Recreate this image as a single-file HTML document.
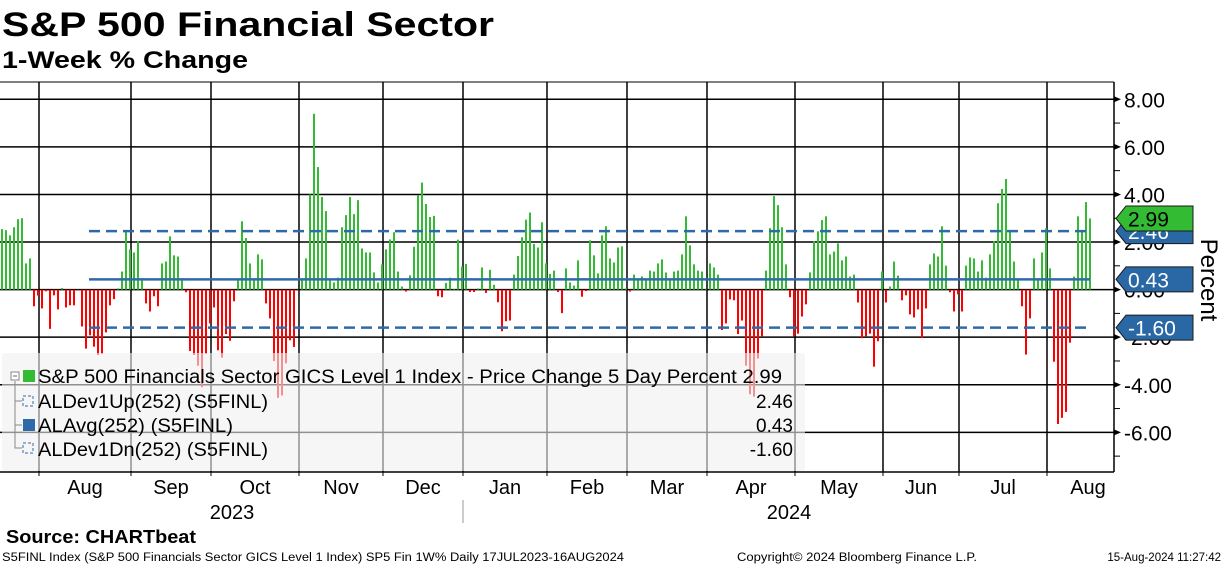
<!DOCTYPE html>
<html><head><meta charset="utf-8"><style>
body{margin:0;background:#fff;width:1224px;height:566px;overflow:hidden}
svg{display:block}
text{font-family:"Liberation Sans","DejaVu Sans",sans-serif}
</style></head><body>
<svg id="chart" width="1224" height="566" viewBox="0 0 1224 566">
<text x="2" y="36" font-size="34" font-weight="bold" textLength="492" lengthAdjust="spacingAndGlyphs">S&amp;P 500 Financial Sector</text>
<text x="2" y="68" font-size="24" font-weight="bold" textLength="246" lengthAdjust="spacingAndGlyphs">1-Week % Change</text>
<g id="grid"></g>
<g id="bars"></g>
<g id="stats"></g>
<g>
<rect x="2" y="353" width="803" height="118" rx="3" fill="rgb(240,240,240)" fill-opacity="0.6"/>
<path d="M15 381 V448 H22 M15 401 H22 M15 425 H22" stroke="#888" fill="none"/>
<rect x="11" y="372" width="8" height="8" fill="#fff" stroke="#888"/>
<line x1="13" y1="376" x2="17" y2="376" stroke="#666"/>
<g><rect x="23" y="370" width="12" height="12" fill="#33bb33"/><text x="38" y="383" font-size="19" textLength="744" lengthAdjust="spacingAndGlyphs">S&amp;P 500 Financials Sector GICS Level 1 Index - Price Change 5 Day Percent 2.99</text></g>
<g><rect x="23" y="396" width="10" height="10" fill="none" stroke="#2e6aa8" stroke-dasharray="3,2"/><text x="38" y="408" font-size="19" textLength="230" lengthAdjust="spacingAndGlyphs">ALDev1Up(252) (S5FINL)</text><text x="793" y="408" font-size="19" text-anchor="end">2.46</text></g>
<g><rect x="23" y="419" width="12" height="12" fill="#2e6aa8"/><text x="38" y="432" font-size="19" textLength="195" lengthAdjust="spacingAndGlyphs">ALAvg(252) (S5FINL)</text><text x="793" y="432" font-size="19" text-anchor="end">0.43</text></g>
<g><rect x="23" y="443" width="10" height="10" fill="none" stroke="#2e6aa8" stroke-dasharray="3,2"/><text x="38" y="456" font-size="19" textLength="230" lengthAdjust="spacingAndGlyphs">ALDev1Dn(252) (S5FINL)</text><text x="793" y="456" font-size="19" text-anchor="end">-1.60</text></g>
</g>
<g id="yaxis"></g>
<g id="xaxis"></g>
<g id="tags"></g>
<text transform="translate(1201,280) rotate(90)" font-size="24" text-anchor="middle">Percent</text>
<text x="6" y="543" font-size="18" font-weight="bold" textLength="190" lengthAdjust="spacingAndGlyphs">Source:  CHARTbeat</text>
<text x="2" y="561" font-size="11.5" textLength="622" lengthAdjust="spacingAndGlyphs">S5FINL Index (S&amp;P 500 Financials Sector GICS Level 1 Index) SP5 Fin 1W%  Daily 17JUL2023-16AUG2024</text>
<text x="737" y="561" font-size="11.5" textLength="240" lengthAdjust="spacingAndGlyphs">Copyright© 2024 Bloomberg Finance L.P.</text>
<text x="1221" y="561" font-size="11.5" text-anchor="end">15-Aug-2024 11:27:42</text>
</svg>
<script>
const values = [2.54,2.5,2.28,2.62,2.96,3.0,1.1,1.31,-0.7,-0.25,-0.79,-0.07,-1.65,-0.24,-0.83,0.07,-0.75,-0.66,-0.66,-0.02,-1.55,-2.48,-1.92,-2.4,-2.75,-2.7,-1.8,-0.66,-0.4,0.05,0.76,2.5,1.69,1.56,2.03,0.38,-0.58,-0.92,-0.28,-0.7,1.1,1.18,2.24,1.44,1.39,0.38,-0.11,-2.58,-2.75,-3.2,
-4.1,-2.7,-1.42,-0.75,-2.55,-2.86,-1.87,-2.15,-0.49,0.38,2.87,2.17,1.1,0.38,1.48,1.27,-0.58,-1.21,-3.0,-4.55,-4.45,-3.1,-2.13,-2.41,-0.02,0.38,1.31,4.0,7.39,5.15,3.89,3.3,0.38,0.3,0.5,2.62,3.13,3.89,3.17,3.76,1.73,1.56,1.56,0.72,0.3,1.06,1.69,2.11,2.41,
0.76,0.13,-0.08,0.6,1.8,3.96,4.5,3.6,3.05,3.1,-0.28,-0.32,0.28,0.5,0.02,2.1,0.97,1.08,-0.1,-0.1,0.05,0.93,-0.14,0.83,0.2,-0.53,-1.75,-1.33,-1.3,0.63,1.41,2.2,2.94,3.24,1.92,1.77,2.83,1.1,0.66,0.8,-0.1,-0.99,0.89,0.3,0.17,1.23,-0.3,-0.06,
2.07,1.44,0.68,2.28,2.66,1.31,1.14,1.77,1.82,0.05,-0.08,0.63,0.38,0.55,0.38,0.8,0.76,1.1,1.27,0.72,0.38,0.76,0.8,1.48,3.08,1.86,1.06,0.8,0.76,0.02,1.1,0.93,0.63,-1.7,-1.42,-0.41,-0.45,-1.87,-1.3,-3.2,-4.4,-4.5,-2.9,-1.96,0.8,2.58,3.93,3.55,2.62,
1.06,-0.32,-1.96,-1.85,-1.13,-0.62,0.72,2.03,2.45,2.92,3.08,1.48,1.6,1.94,1.23,1.39,0.55,0.63,-0.54,-2.04,-1.96,-1.85,-3.24,-2.17,0.76,-0.54,0.13,1.18,0.59,-0.45,-0.24,-1.04,-1.17,-0.83,-2.03,-0.79,1.06,1.52,1.39,2.66,1.01,-0.11,-0.92,-0.2,-0.92,1.01,1.35,1.31,0.76,
1.23,0.5,1.48,2.03,3.63,4.23,4.65,2.45,1.18,0.38,-0.7,-2.73,-1.21,1.31,0.38,1.56,2.58,0.89,-3.03,-5.65,-5.39,-5.14,-2.23,0.55,3.08,2.45,3.68,2.99];
const yTicks = [8,6,4,2,0,-2,-4,-6];
const yTickLabels = ["8.00","6.00","4.00","2.00","0.00","-2.00","-4.00","-6.00"];
const monthLabels = ["Aug","Sep","Oct","Nov","Dec","Jan","Feb","Mar","Apr","May","Jun","Jul","Aug"];
const monthStartIdx = [10,33,53,75,96,116,137,157,177,199,221,240,262];
const yearLabels = ["2023","2024"];
const statValues = [2.46,0.43,-1.60];
const lastValue = 2.99;

const NS="http://www.w3.org/2000/svg";
const PL=0, PR=1114, PT=82, PB=472;
const y = v => 289.6 - v*23.79;
const x = i => 1 + i*4;
function mk(tag, attrs, parent){const e=document.createElementNS(NS,tag);for(const k in attrs)e.setAttribute(k,attrs[k]);parent.appendChild(e);return e;}

const grid=document.getElementById('grid');
mk('line',{x1:PL,y1:PT,x2:PR,y2:PT,stroke:'#000'},grid);
yTicks.forEach(t=>{const l=mk('line',{x1:PL,y1:y(t),x2:PR,y2:y(t),stroke:'#000','stroke-width':1.5},grid);

});
const bounds=monthStartIdx.map(i=>x(i)-2);
bounds.forEach(bx=>{const l=mk('line',{x1:bx,y1:PT,x2:bx,y2:PB,stroke:'#000','stroke-width':1.5},grid);

});

const bars=document.getElementById('bars');
values.forEach((v,i)=>{const r=mk('rect',{x:x(i),y:Math.min(y(v),y(0)),width:2,height:Math.max(0.5,Math.abs(y(v)-y(0))),fill:v>=0?'#33bb33':'#ff0000'},bars);

});

const stats=document.getElementById('stats');
statValues.forEach((s,k)=>{const l=mk('line',{x1:89,x2:1090,y1:y(s),y2:y(s),stroke:'#2e6aa8','stroke-width':2.5},stats);
if(k!==1)l.setAttribute('stroke-dasharray','11,6');

});

const ya=document.getElementById('yaxis');
mk('line',{x1:PR,y1:PT,x2:PR,y2:PB,stroke:'#000','stroke-width':1.5},ya);
mk('line',{x1:0,y1:PB,x2:PR,y2:PB,stroke:'#000','stroke-width':1.5},ya);
for(let v=7;v>=-7;v-=2){mk('line',{x1:PR,x2:PR+6,y1:y(v),y2:y(v),stroke:'#000'},ya);}
yTicks.forEach((t,k)=>{mk('polygon',{points:`${PR},${y(t)-3} ${PR+7},${y(t)} ${PR},${y(t)+3}`,fill:'#000'},ya);
const tx=mk('text',{x:PR+10,y:y(t)+8,'font-size':21},ya);tx.textContent=yTickLabels[k];

});

const xa=document.getElementById('xaxis');
bounds.forEach(bx=>mk('line',{x1:bx,x2:bx,y1:PB,y2:PB+4,stroke:'#000'},xa));
monthLabels.forEach((m,k)=>{const a=bounds[k], b=k+1<bounds.length?bounds[k+1]:PR+(PR-bounds[k]-40);
const cx=k+1<bounds.length?(a+b)/2:1088;
const t=mk('text',{x:cx,y:494,'font-size':20,'text-anchor':'middle'},xa);t.textContent=m;

});
const yr1=mk('text',{x:232,y:519,'font-size':20,'text-anchor':'middle'},xa);yr1.textContent=yearLabels[0];


const yr2=mk('text',{x:789,y:519,'font-size':20,'text-anchor':'middle'},xa);yr2.textContent=yearLabels[1];


mk('line',{x1:463,x2:463,y1:500,y2:523,stroke:'#999'},xa);

const tags=document.getElementById('tags');
function tag(v,fill,txtFill,label,name){const cy=y(v);
const g=mk('g',{},tags);


mk('polygon',{points:`1116,${cy} 1126,${cy-12.5} 1193,${cy-12.5} 1193,${cy+12.5} 1126,${cy+12.5}`,fill:fill,stroke:'#1a1a1a','stroke-width':1},g);
const t=mk('text',{x:1128,y:cy+8,'font-size':21,fill:txtFill},g);t.textContent=label;}
tag(statValues[2],'#2a67a5','#fff',statValues[2].toFixed(2),'tag-dev-down');
tag(statValues[1],'#2a67a5','#fff',statValues[1].toFixed(2),'tag-avg');
tag(statValues[0],'#2a67a5','#fff',statValues[0].toFixed(2),'tag-dev-up');
tag(lastValue,'#33bb33','#000',lastValue.toFixed(2),'tag-last-value');
</script>
</body></html>
